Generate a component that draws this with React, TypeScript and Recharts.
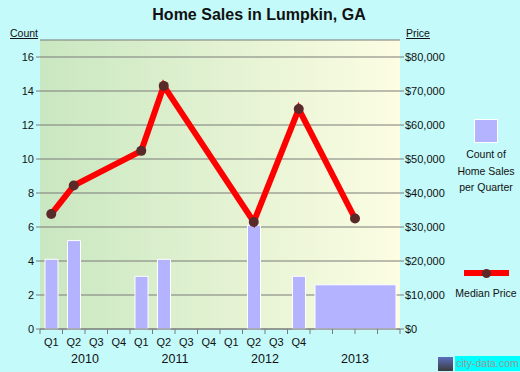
import React from 'react';
import { ComposedChart, Bar, Line, XAxis, YAxis, CartesianGrid } from 'recharts';

// quarters in the x domain: 0..16 (2010 Q1 .. 2013 Q4)
const quarterNames = ['Q1', 'Q2', 'Q3', 'Q4'];
const yearLabels = ['2010', '2011', '2012', '2013'];
const labelledQuarters = 12; // 2013 is shown as one yearly bar, no quarter labels

const periodPos = [0.5, 1.5, 4.5, 5.5, 9.5, 11.5, 14];
const quarterCount = [4.1, 5.2, 3.1, 4.1, 6.1, 3.1, null];
const yearCount = [null, null, null, null, null, null, 2.6];
const medianPrice = [33800, 42200, 52400, 71500, 31500, 64700, 32500];

const countTicks = [0, 2, 4, 6, 8, 10, 12, 14, 16];
const priceTicks = [0, 10000, 20000, 30000, 40000, 50000, 60000, 70000, 80000];

const data = periodPos.map((pos, i) => ({
    pos,
    yrPos: yearCount[i] == null ? undefined : pos,
    count: quarterCount[i],
    yearly: yearCount[i],
    price: medianPrice[i],
}));

const xTicks: number[] = [];
for (let i = 0; i <= 16; i++) {
    xTicks.push(i);
    if (i < labelledQuarters) xTicks.push(i + 0.5);
}

const FONT = '"Liberation Sans", Arial, sans-serif';
const GRID = '#7a7a7a';

const QuarterTick = (props: any) => {
    const { x, y, payload } = props;
    const v = payload.value;
    if (Number.isInteger(v)) {
        const yi = (v - 2) / 4;
        return (
            <g>
                <line x1={x} x2={x} y1={y} y2={y + 5} stroke={GRID} />
                {Number.isInteger(yi) && yi >= 0 && yi < yearLabels.length ? (
                    <text x={x} y={y + 34} textAnchor="middle" fontSize={12.5} fill="#111" fontFamily={FONT}>
                        {yearLabels[yi]}
                    </text>
                ) : null}
            </g>
        );
    }
    return (
        <text x={x} y={y + 17} textAnchor="middle" fontSize={11} fill="#111" fontFamily={FONT}>
            {quarterNames[Math.floor(v) % 4]}
        </text>
    );
};

const App = () => {
    return (
        <div style={{ position: 'absolute', left: 0, top: 0, width: 520, height: 372, background: '#c4fafa', fontFamily: FONT, overflow: 'hidden' }}>
            <div style={{ position: 'absolute', left: 0, top: 5, width: 518, textAlign: 'center', fontSize: 16, fontWeight: 'bold', lineHeight: '20px', color: '#111' }}>
                Home Sales in Lumpkin, GA
            </div>
            <div style={{ position: 'absolute', left: 10, top: 27, fontSize: 10.5, textDecoration: 'underline', color: '#111' }}>Count</div>
            <div style={{ position: 'absolute', left: 406, top: 27, fontSize: 10.5, textDecoration: 'underline', color: '#111' }}>Price</div>

            <ComposedChart width={520} height={372} data={data} margin={{ top: 40, right: 70, left: 0, bottom: 0 }}>
                <defs>
                    <linearGradient id="plotBg" x1="0" y1="0" x2="1" y2="0">
                        <stop offset="0%" stopColor="#c9e7c1" />
                        <stop offset="100%" stopColor="#fcfde2" />
                    </linearGradient>
                </defs>
                <CartesianGrid vertical={false} stroke={GRID} fill="url(#plotBg)" fillOpacity={1} yAxisId="count" />
                <XAxis
                    dataKey="pos"
                    type="number"
                    domain={[0, 16]}
                    ticks={xTicks}
                    interval={0}
                    tick={<QuarterTick />}
                    tickLine={false}
                    tickSize={0}
                    tickMargin={0}
                    height={43}
                    axisLine={{ stroke: GRID }}
                />
                <XAxis xAxisId="yr" dataKey="yrPos" type="number" domain={[0, 16]} ticks={[0, 16]} hide />
                <YAxis
                    yAxisId="count"
                    domain={[0, 17]}
                    ticks={countTicks}
                    interval={0}
                    width={40}
                    tickSize={4}
                    tickMargin={2}
                    axisLine={false}
                    tickLine={{ stroke: GRID }}
                    tick={{ fill: '#111', fontSize: 11, fontFamily: FONT }}
                />
                <YAxis
                    yAxisId="price"
                    orientation="right"
                    domain={[0, 85000]}
                    ticks={priceTicks}
                    interval={0}
                    width={50}
                    tickSize={4}
                    tickMargin={1}
                    axisLine={false}
                    tickLine={{ stroke: GRID }}
                    tick={{ fill: '#111', fontSize: 11, fontFamily: FONT }}
                    tickFormatter={(v: number) => '$' + v.toLocaleString('en-US')}
                />
                <Bar yAxisId="count" dataKey="count" barSize={13} fill="#b3b3ff" stroke="#ffffff" strokeWidth={1} isAnimationActive={false} />
                <Bar xAxisId="yr" yAxisId="count" dataKey="yearly" barSize={81} fill="#b3b3ff" stroke="#ffffff" strokeWidth={1} isAnimationActive={false} />
                <Line
                    yAxisId="price"
                    dataKey="price"
                    type="linear"
                    stroke="#ff0000"
                    strokeWidth={6}
                    dot={{ r: 5, fill: '#5a2a2a', stroke: 'none' }}
                    activeDot={false}
                    isAnimationActive={false}
                />
            </ComposedChart>

            {/* legend */}
            <div style={{ position: 'absolute', left: 474, top: 119, width: 22, height: 22, background: '#b3b3ff', border: '1px solid #fff' }} />
            <div style={{ position: 'absolute', left: 450, top: 146, width: 72, textAlign: 'center', fontSize: 10.5, lineHeight: '16.5px', color: '#111' }}>
                Count of<br />Home Sales<br />per Quarter
            </div>
            <div style={{ position: 'absolute', left: 464, top: 270, width: 45, height: 6, background: '#ff0000' }} />
            <div style={{ position: 'absolute', left: 482, top: 268.5, width: 9, height: 9, borderRadius: '50%', background: '#5a2a2a' }} />
            <div style={{ position: 'absolute', left: 450, top: 286, width: 72, textAlign: 'center', fontSize: 10.5, lineHeight: '14px', color: '#111' }}>
                Median Price
            </div>

            {/* watermark */}
            <div style={{ position: 'absolute', left: 438, top: 357, width: 15, height: 14, background: 'linear-gradient(#5a6fc0, #3a3a3a)' }} />
            <div style={{ position: 'absolute', left: 455, top: 356, width: 65, height: 15, background: '#00ffff', color: '#999', fontSize: 10.5, lineHeight: '15px', textAlign: 'center', whiteSpace: 'nowrap' }}>
                city-data.com
            </div>
        </div>
    );
};

export default App;
